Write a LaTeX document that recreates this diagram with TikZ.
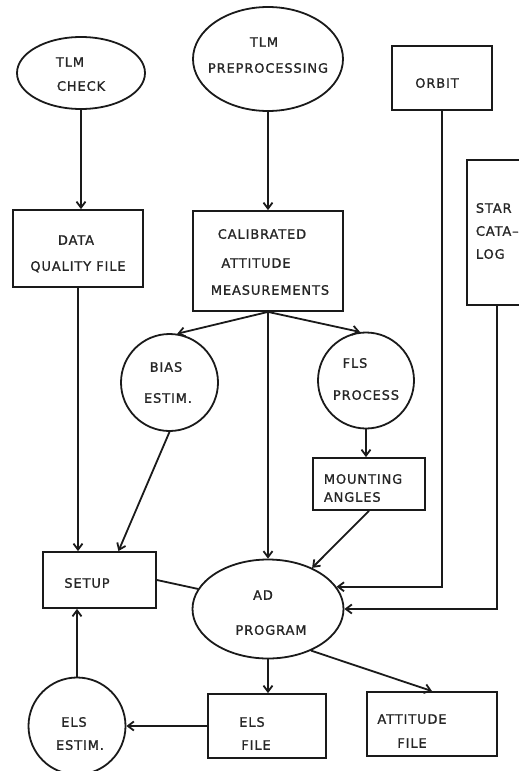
\documentclass[tikz,border=0pt]{standalone}
\usepackage{fontspec}
\usetikzlibrary{shapes.geometric,arrows.meta,calc}
\newfontfamily\lett[LetterSpace=7,FakeBold=1.2]{DejaVu Sans}
\definecolor{ink}{HTML}{1A1A1A}
\definecolor{txtc}{HTML}{262626}
\begin{document}
\begin{tikzpicture}[x=1bp,y=-1bp,line width=1.8bp,draw=ink,
  box/.style={draw,rectangle,inner sep=0pt},
  oval/.style={draw,ellipse,inner sep=0pt},
  circ/.style={draw,circle,inner sep=0pt},
  txt/.style={font=\fontsize{13}{15}\selectfont\lett,text=txtc,inner sep=0pt,text height=9.5bp,text depth=0pt},
  arr/.style={-{Straight Barb[length=6bp,width=9bp]}}]
\useasboundingbox (0,0) rectangle (519,771);
% shapes
\node[oval,minimum width=128bp,minimum height=72bp] (tlmcheck) at (81,73) {};
\node[oval,minimum width=150bp,minimum height=104bp] (tlmpre) at (268,59) {};
\node[box,minimum width=130bp,minimum height=77bp] (dqf) at (78,248.5) {};
\node[box,minimum width=150bp,minimum height=100bp] (cal) at (268,261) {};
\node[box,minimum width=100bp,minimum height=64bp] (orbit) at (442,78) {};
\node[box,minimum width=60bp,minimum height=145bp] (star) at (497,232.5) {};
\node[circ,minimum size=97bp] (bias) at (169.5,382.5) {};
\node[circ,minimum size=96bp] (fls) at (366,380.5) {};
\node[box,minimum width=112bp,minimum height=52bp] (mount) at (369,484) {};
\node[box,minimum width=113bp,minimum height=56bp] (setup) at (99.5,580) {};
\node[oval,minimum width=151bp,minimum height=99bp] (ad) at (268,609) {};
\node[box,minimum width=118bp,minimum height=64bp] (elsf) at (267,726) {};
\node[box,minimum width=130bp,minimum height=64bp] (att) at (432,724) {};
\node[circ,minimum size=97bp] (elsest) at (77,726) {};
% labels
\node[txt] (tcA) at (70,62) {TLM};
\node[txt] (tcB) at (81,86) {CHECK};
\node[txt] (tpA) at (264,42) {TLM};
\node[txt] (tpB) at (268,68) {PREPROCESSING};
\node[txt] (dqA) at (76,240) {DATA};
\node[txt] (dqB) at (78,266) {QUALITY FILE};
\node[txt] (caA) at (262,234) {CALIBRATED};
\node[txt] (caB) at (256,263) {ATTITUDE};
\node[txt] (caC) at (270,290) {MEASUREMENTS};
\node[txt] (orA) at (437,83) {ORBIT};
\node[txt,anchor=west] (stA) at (475,208) {STAR};
\node[txt,anchor=west] (stB) at (475,231) {CATA–};
\node[txt,anchor=west] (stC) at (475,254) {LOG};
\node[txt] (biA) at (166,367) {BIAS};
\node[txt] (biB) at (168,398) {ESTIM.};
\node[txt] (flA) at (355,363) {FLS};
\node[txt] (flB) at (366,395) {PROCESS};
\node[txt,anchor=west] (moA) at (323,479) {MOUNTING};
\node[txt,anchor=west] (moB) at (323,497) {ANGLES};
\node[txt] (seA) at (87,583) {SETUP};
\node[txt] (adA) at (263,595) {AD};
\node[txt] (adB) at (271,630) {PROGRAM};
\node[txt] (efA) at (252,722) {ELS};
\node[txt] (efB) at (256,745) {FILE};
\node[txt] (eeA) at (74,722) {ELS};
\node[txt] (eeB) at (80,745) {ESTIM.};
\node[txt] (atA) at (412,719) {ATTITUDE};
\node[txt] (atB) at (412,743) {FILE};
% connectors
\draw[arr] (tlmcheck.south) -- (tlmcheck.south |- dqf.north);
\draw[arr] (tlmpre.south) -- (tlmpre.south |- cal.north);
\draw[arr] (cal.south) -- (bias.81);
\draw[arr] (cal.south) -- (fls.97);
\draw[arr] (cal.south) -- (ad.north);
\draw[arr] (fls.south) -- (fls.south |- mount.north);
\draw[arr] (mount.south) -- (ad.43);
\draw[arr] (dqf.south) -- (dqf.south |- setup.north);
\draw[arr] (bias.south) -- ($(setup.north)!0.33!(setup.north east)$);
\draw (setup.east) -- (ad.164);
\draw[arr] (orbit.south) |- (ad.18);
\draw[arr] (star.south) |- (ad.east);
\draw[arr] (ad.south) -- (ad.south |- elsf.north);
\draw[arr] (ad.-44) -- (att.north);
\draw[arr] (elsf.west) -- (elsest.east);
\draw[arr] (elsest.north) -- (elsest.north |- setup.south);
\end{tikzpicture}
\end{document}
